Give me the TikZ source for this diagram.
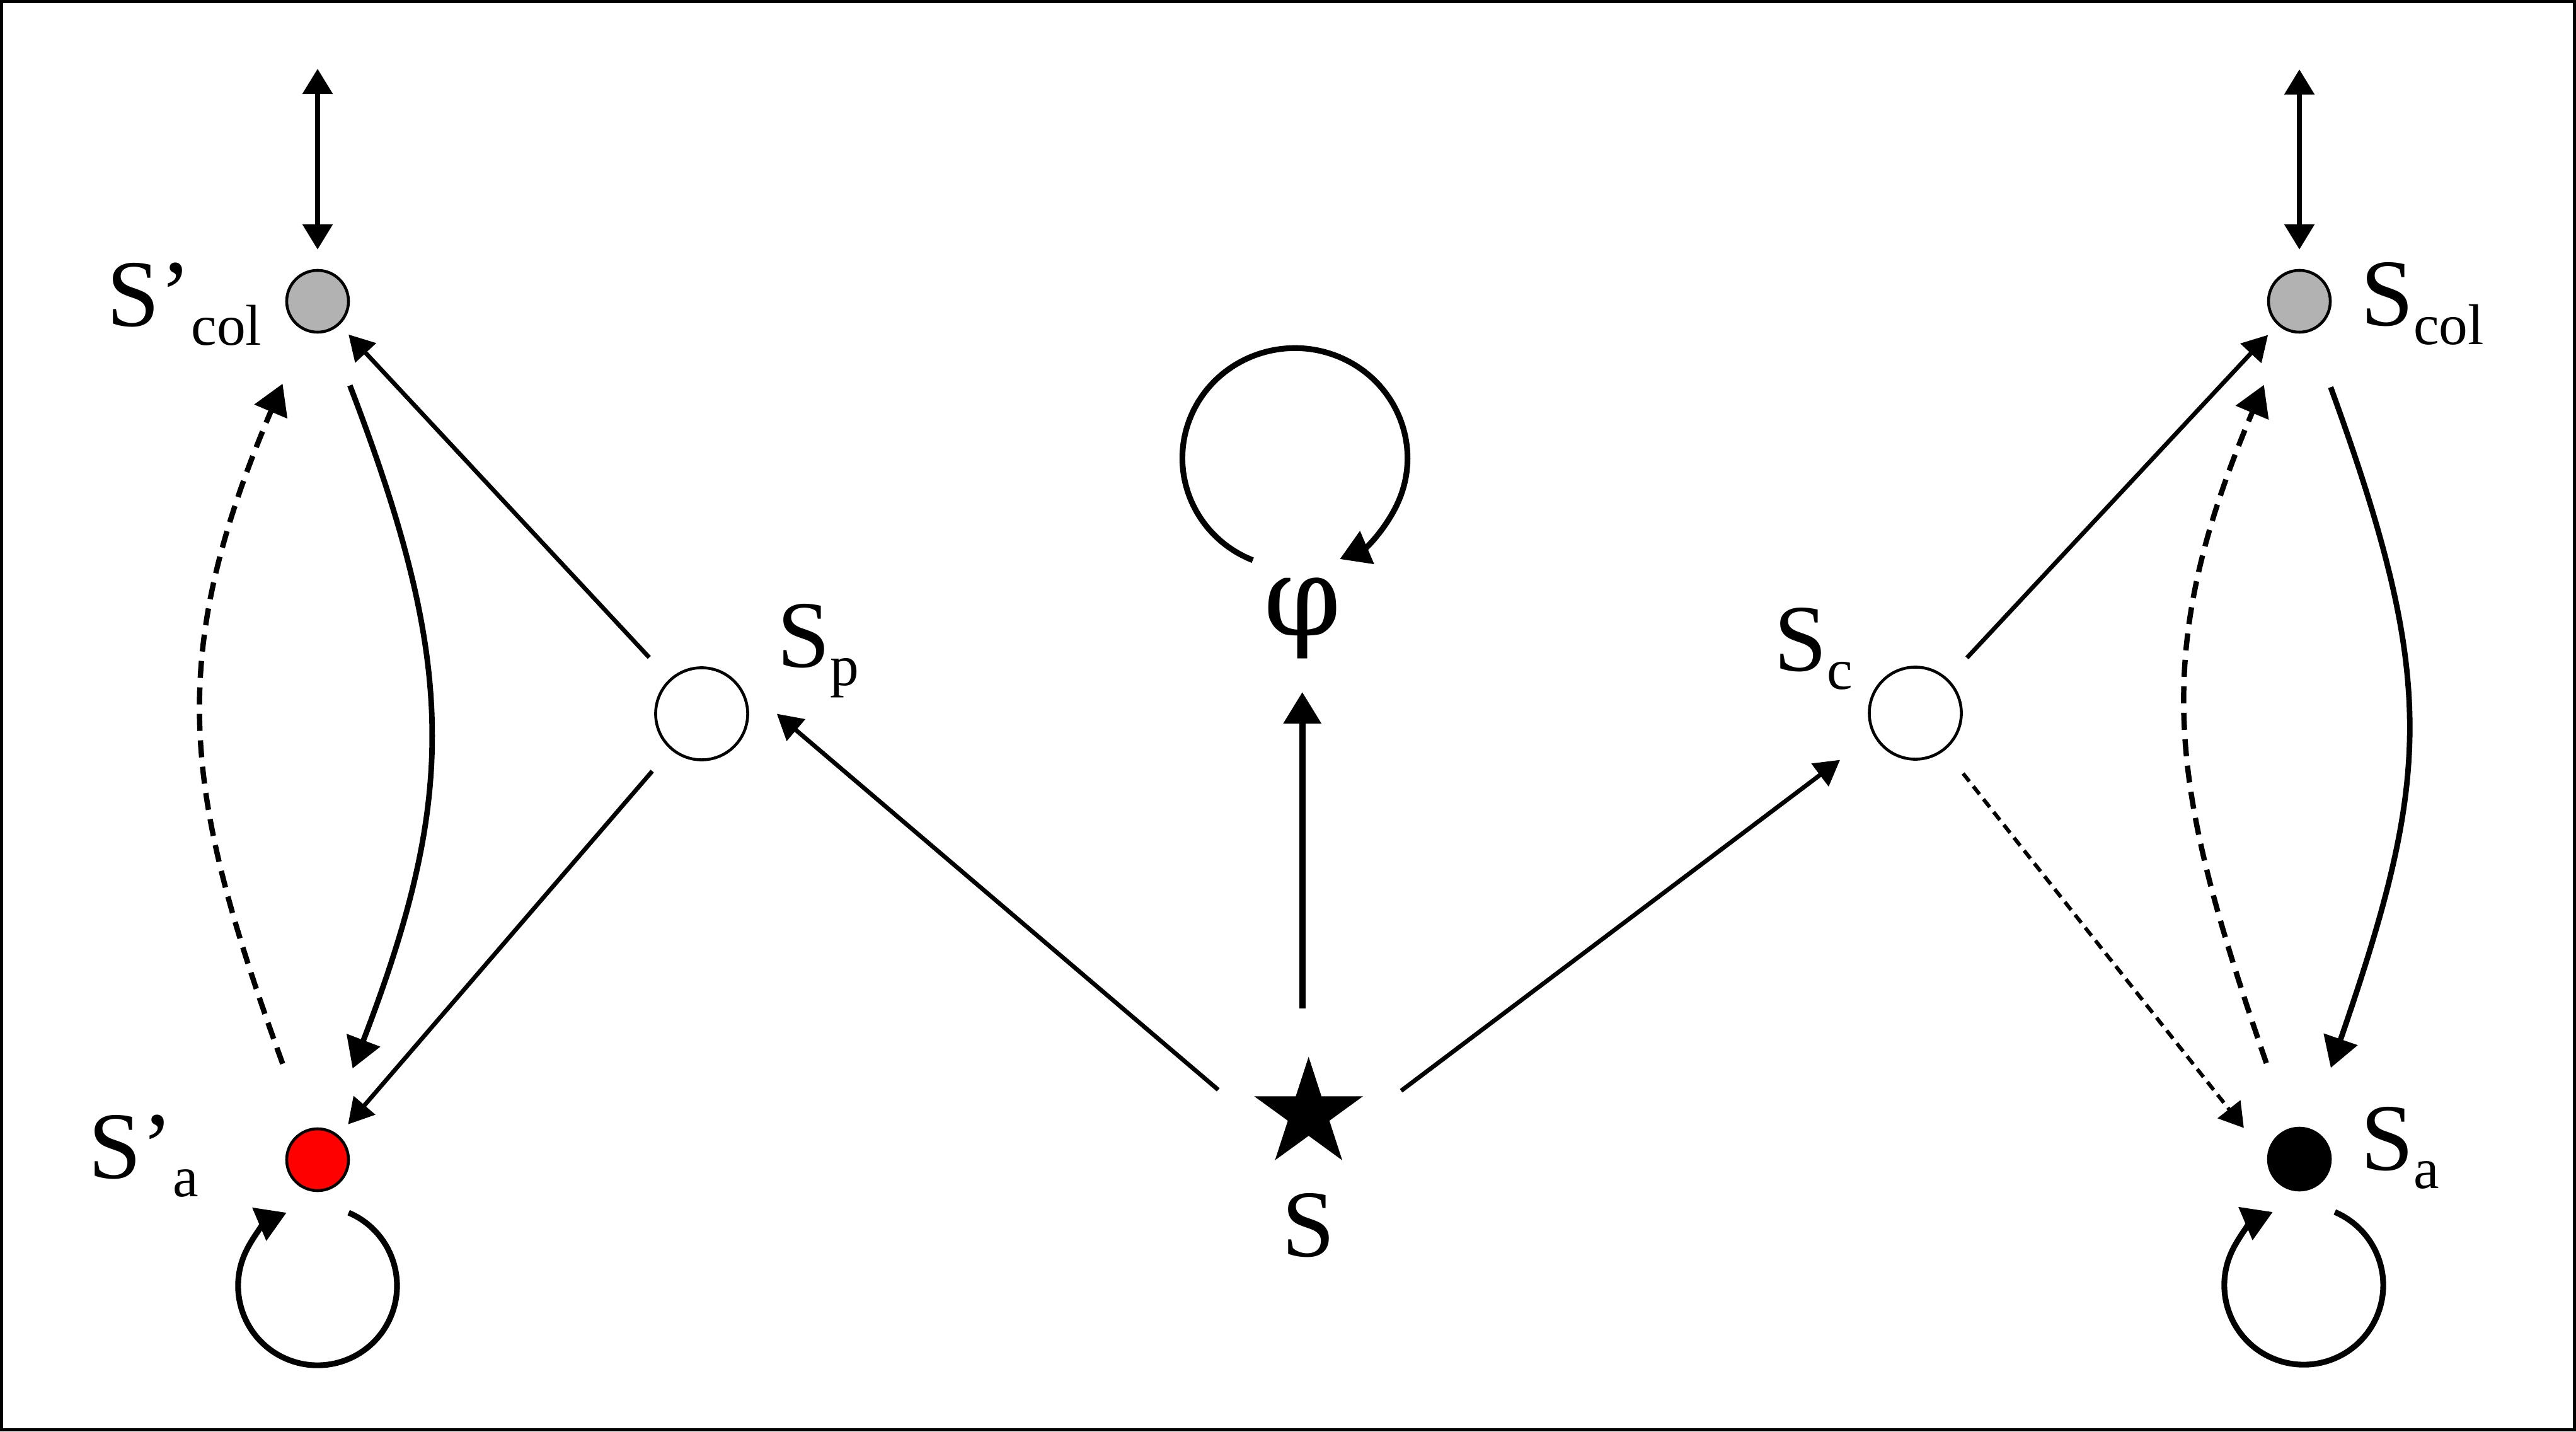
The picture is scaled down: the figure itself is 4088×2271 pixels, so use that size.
\documentclass[tikz,border=0pt]{standalone}
\usepackage{fontspec}
\setmainfont{Liberation Serif}
\newfontfamily\phifont{DejaVu Serif}
\usetikzlibrary{arrows.meta,shapes.geometric,calc}
\newcommand{\lsub}[1]{\raisebox{-0.29cm}{\fontsize{26}{30}\selectfont #1}}
\begin{document}
\begin{tikzpicture}[x=0.01cm,y=0.01cm,
  state/.style={circle,draw=black,line width=1.3pt,minimum size=0.98cm,inner sep=0pt,outer sep=0pt},
  bigstate/.style={state,minimum size=1.46cm,fill=white},
  lab/.style={inner sep=0pt,outer sep=0pt,font=\fontsize{43}{50}\selectfont},
  diag/.style={line width=1.95pt,-{Triangle[length=0.40cm,width=0.44cm]}},
  dbl/.style={line width=2.5pt,{Triangle[length=0.40cm,width=0.46cm]}-{Triangle[length=0.40cm,width=0.46cm]}},
  curve/.style={line width=2.5pt,-{Triangle[length=0.48cm,width=0.55cm]}},
  dcurve/.style={line width=2.4pt,dash pattern=on 0.27cm off 0.15cm,-{Triangle[length=0.48cm,width=0.55cm]}},
  dots/.style={line width=1.7pt,dash pattern=on 0.16cm off 0.10cm,-{Triangle[length=0.38cm,width=0.45cm]}},
  vert/.style={line width=2.9pt,-{Triangle[length=0.50cm,width=0.58cm]}},
  loopy/.style={line width=2.6pt,-{Triangle[length=0.47cm,width=0.55cm]}}]
\useasboundingbox (0,0) rectangle (4088,2271);
\draw[line width=1.56pt] (2.75,2.75) rectangle (4085.25,2268.25);

% nodes
\node[state,fill=black!30] (spcol) at (504,1793) {};
\node[state,fill=red] (spa) at (504,431) {};
\node[bigstate] (sp) at (1113.5,1138.5) {};
\node[bigstate] (sc) at (3039.5,1139.5) {};
\node[state,fill=black!30] (scol) at (3649,1793) {};
\node[state,fill=black] (sa) at (3649,432) {};
\node[star,star points=5,star point ratio=2.618,fill=black,minimum size=1.814cm,inner sep=0pt,outer sep=0pt] (star) at (2076.7,503.6) {};
\node[inner sep=0pt,outer sep=0pt,font=\phifont\fontsize{50}{56}\selectfont,anchor=base] (phi) at (2066.7,1263) {φ};

% labels
\node[lab,anchor=base west] (lspcol) at (169,1753) {S’\lsub{col}};
\node[lab,anchor=base west] (lspa) at (140,402) {S’\lsub{a}};
\node[lab,anchor=base west] (lsp) at (1233,1213) {S\lsub{p}};
\node[lab,anchor=base west] (lsc) at (2815,1207) {S\lsub{c}};
\node[lab,anchor=base west] (lscol) at (3746,1754) {S\lsub{col}};
\node[lab,anchor=base west] (lsa) at (3746,415) {S\lsub{a}};
\node[lab,anchor=base] (ls) at (2077,278) {S};

% free ends
\coordinate (topL) at (504,2162);
\coordinate (topR) at (3649,2161);
\coordinate (spin) at ($(sp)+(119.3,0)$);

% connectors
\draw[dbl,shorten >=0.33cm] (topL) -- (spcol);
\draw[dbl,shorten >=0.33cm] (topR) -- (scol);
\draw[diag,shorten <=0.49cm,shorten >=0.23cm] (sp) -- (spcol);
\draw[diag,shorten <=0.47cm,shorten >=0.25cm] (sp) -- (spa);
\draw[diag,shorten <=0.47cm,shorten >=0.24cm] (sc) -- (scol);
\draw[dots,shorten <=0.49cm,shorten >=0.63cm] (sc) -- (sa.west);
\draw[diag,shorten <=1.30cm] (star.226) -- (spin);
\draw[diag,shorten <=1.30cm,shorten >=0.68cm] (star.316) -- (sc.207);
\draw[vert,shorten <=0.77cm,shorten >=0.90cm] (phi.base |- star.north) -- (phi.base);

\draw[curve,shorten <=0.94cm,shorten >=1.06cm] (spcol) to[out=-69,in=69,looseness=1.15] (spa);
\draw[dcurve,shorten <=1.13cm,shorten >=0.93cm] (spa) to[out=110,in=-113,looseness=1.15] (spcol);
\draw[curve,shorten <=0.96cm,shorten >=1.04cm] (scol) to[out=-70,in=71,looseness=1.2] (sa);
\draw[dcurve,shorten <=1.12cm,shorten >=0.95cm] (sa) to[out=109,in=-113,looseness=1.15] (scol);

% self loops
\draw[loopy] ([shift={(49.2,-84)}]spa.center) arc[start angle=67,end angle=-247,radius=1.26cm];
\draw[loopy] ([shift={(56.2,-84)}]sa.center) arc[start angle=67,end angle=-247,radius=1.26cm];
\draw[loopy] ([shift={(-78.6,119.2)}]phi.base) arc[start angle=248,end angle=-66.5,x radius=1.785cm,y radius=1.745cm];
\end{tikzpicture}
\end{document}
